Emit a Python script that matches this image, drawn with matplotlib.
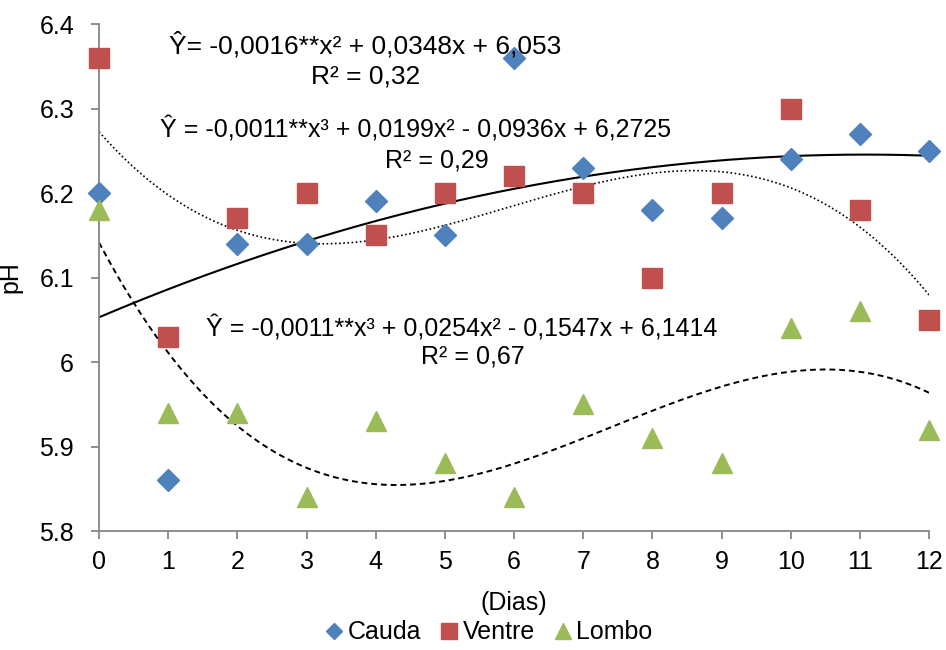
import numpy as np
import matplotlib.pyplot as plt
from matplotlib.ticker import FuncFormatter

plt.rcParams['font.family'] = ['Liberation Sans', 'DejaVu Sans']

# dados
dias = [0, 1, 2, 3, 4, 5, 6, 7, 8, 9, 10, 11, 12]
cauda = [6.20, 5.86, 6.14, 6.14, 6.19, 6.15, 6.36, 6.23, 6.18, 6.17, 6.24, 6.27, 6.25]
ventre = [6.36, 6.03, 6.17, 6.20, 6.15, 6.20, 6.22, 6.20, 6.10, 6.20, 6.30, 6.18, 6.05]
lombo = [6.18, 5.94, 5.94, 5.84, 5.93, 5.88, 5.84, 5.95, 5.91, 5.88, 6.04, 6.06, 5.92]

eq_cauda = ["Ŷ= -0,0016**x² + 0,0348x + 6,053", "R² = 0,32"]
eq_ventre = ["Ŷ = -0,0011**x³ + 0,0199x² - 0,0936x + 6,2725", "R² = 0,29"]
eq_lombo = ["Ŷ = -0,0011**x³ + 0,0254x² - 0,1547x + 6,1414", "R² = 0,67"]

fig = plt.figure(figsize=(9.46, 6.5), dpi=100)
ax = fig.add_axes([0.1047, 0.183, 0.8774, 0.78])

# linhas de tendência (ajuste polinomial como no Excel)
xs = np.linspace(0, 12, 300)
ax.plot(xs, np.polyval(np.polyfit(dias, cauda, 2), xs), color='black', lw=1.5, zorder=2)
ax.plot(xs, np.polyval(np.polyfit(dias, ventre, 3), xs), color='black', lw=1.2,
        linestyle=(0, (1, 1.5)), zorder=2)
ax.plot(xs, np.polyval(np.polyfit(dias, lombo, 3), xs), color='black', lw=1.4,
        linestyle=(0, (3, 2)), zorder=2)

ax.plot(dias, cauda, 'D', color='#4F81BD', ms=11.5, mec='#4F81BD', clip_on=False, zorder=3, label='Cauda')
ax.plot(dias, ventre, 's', color='#C0504D', ms=14.5, mec='#C0504D', clip_on=False, zorder=3, label='Ventre')
ax.plot(dias, lombo, '^', color='#9BBB59', ms=14.5, mec='#9BBB59', clip_on=False, zorder=3, label='Lombo')

ax.set_xlim(0, 12)
ax.set_ylim(5.8, 6.4)
ax.set_xticks(range(0, 13))
ax.set_yticks(np.arange(5.8, 6.41, 0.1))
ax.yaxis.set_major_formatter(FuncFormatter(lambda v, p: '%g' % round(v, 2)))

for s in ['top', 'right']:
    ax.spines[s].set_visible(False)
for s in ['left', 'bottom']:
    ax.spines[s].set_color('#868686')
    ax.spines[s].set_linewidth(1.3)
ax.tick_params(axis='both', direction='out', length=6, width=1.3, color='#868686',
               labelsize=18, labelcolor='black')
ax.tick_params(axis='x', pad=8)
ax.tick_params(axis='y', pad=12)

ax.set_ylabel('pH', fontsize=18, labelpad=12)
ax.set_xlabel('(Dias)', fontsize=18, labelpad=12)

# equações
ax.text(3.85, 6.375, eq_cauda[0], ha='center', va='center', fontsize=19)
ax.text(3.85, 6.338, eq_cauda[1], ha='center', va='center', fontsize=19)
ax.text(4.58, 6.275, eq_ventre[0], ha='center', va='center', fontsize=18)
ax.text(4.89, 6.238, eq_ventre[1], ha='center', va='center', fontsize=18)
ax.text(5.24, 6.040, eq_lombo[0], ha='center', va='center', fontsize=18)
ax.text(5.41, 6.006, eq_lombo[1], ha='center', va='center', fontsize=18)

fig.legend(loc='lower center', bbox_to_anchor=(0.515, -0.026), ncol=3, frameon=False,
           fontsize=18, handletextpad=0.05, columnspacing=0.6, handlelength=1.0,
           markerscale=0.75)

fig.savefig('out.png', dpi=100)
